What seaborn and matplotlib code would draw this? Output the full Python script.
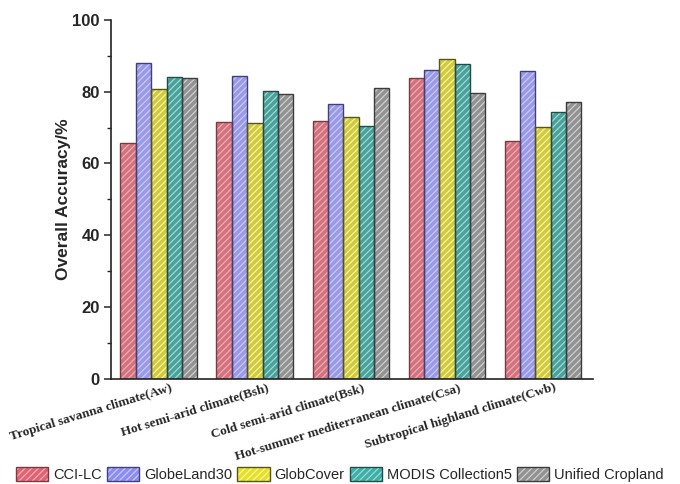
import matplotlib
matplotlib.use("Agg")
import matplotlib.pyplot as plt
import matplotlib.transforms as mtransforms
from matplotlib.patches import Patch
import seaborn as sns
import pandas as pd

# Climate zones (x categories)
climates = [
    "Tropical savanna climate(Aw)",
    "Hot semi-arid climate(Bsh)",
    "Cold semi-arid climate(Bsk)",
    "Hot-summer mediterranean climate(Csa)",
    "Subtropical highland climate(Cwb)",
]

# Overall accuracy (%) of each cropland product per climate zone
products = ["CCI-LC", "GlobeLand30", "GlobCover", "MODIS Collection5", "Unified Cropland"]
cci_lc = [65.6, 71.5, 71.9, 83.9, 66.4]
globeland30 = [88.1, 84.4, 76.7, 86.1, 85.8]
globcover = [80.7, 71.4, 72.9, 89.0, 70.3]
modis_c5 = [84.2, 80.2, 70.4, 87.8, 74.4]
unified = [83.7, 79.4, 81.0, 79.6, 77.1]

fill_colors = ["#de6474", "#8c8cf2", "#e6e02a", "#3eaea6", "#929292"]
hatch_colors = ["#f3a9b2", "#c8c8ff", "#fbf59a", "#9adcd6", "#cfcfcf"]
edge_colors = ["#7a3a40", "#40407a", "#55551a", "#1f4e4a", "#3c3c3c"]

records = []
for prod, vals in zip(products, [cci_lc, globeland30, globcover, modis_c5, unified]):
    for clim, v in zip(climates, vals):
        records.append({"climate": clim, "product": prod, "accuracy": v})
df = pd.DataFrame(records)

sns.set_style("ticks")
plt.rcParams["font.family"] = ["Liberation Sans", "DejaVu Sans"]
plt.rcParams["hatch.linewidth"] = 0.9

fig = plt.figure(figsize=(6.8, 4.84), dpi=100)
ax = fig.add_axes([0.163, 0.217, 0.709, 0.742])

# Filled, hatched bars
sns.barplot(data=df, x="climate", y="accuracy", hue="product",
            order=climates, hue_order=products, palette=fill_colors,
            width=0.8, legend=False, ax=ax, errorbar=None)
for i, cont in enumerate(ax.containers):
    for p in cont:
        p.set_hatch("/////")
        p.set_edgecolor(hatch_colors[i])
        p.set_linewidth(0)

# Dark outlines drawn on top
n_before = len(ax.containers)
sns.barplot(data=df, x="climate", y="accuracy", hue="product",
            order=climates, hue_order=products, palette=fill_colors,
            width=0.8, legend=False, ax=ax, errorbar=None, fill=False)
for i, cont in enumerate(ax.containers[n_before:]):
    for p in cont:
        p.set_edgecolor(edge_colors[i])
        p.set_linewidth(1.0)
        p.set_facecolor("none")

ax.set_ylim(0, 100)
ax.set_xlim(-0.5, 4.52)
ax.set_yticks([0, 20, 40, 60, 80, 100])
ax.set_yticks(range(10, 100, 20), minor=True)
ax.tick_params(axis="y", which="major", length=5, width=1.1, labelsize=12,
               direction="out", pad=3)
ax.tick_params(axis="y", which="minor", length=3, width=1.0, direction="out")
ax.tick_params(axis="x", length=0, pad=2)
for lab in ax.get_yticklabels():
    lab.set_fontweight("bold")

ax.set_xlabel("")
ax.set_ylabel("Overall Accuracy/%", fontsize=12.5, fontweight="bold", labelpad=1)

offset = mtransforms.ScaledTranslation(15 / 100, 0, fig.dpi_scale_trans)
for lab in ax.get_xticklabels():
    lab.set_rotation(17)
    lab.set_ha("right")
    lab.set_family(["Liberation Serif", "DejaVu Serif"])
    lab.set_fontweight("bold")
    lab.set_fontsize(9.5)
    lab.set_transform(lab.get_transform() + offset)

sns.despine(ax=ax)
for s in ("left", "bottom"):
    ax.spines[s].set_linewidth(1.2)
    ax.spines[s].set_color("#222222")

handles = []
for fc, hc, ec in zip(fill_colors, hatch_colors, edge_colors):
    h1 = Patch(facecolor=fc, edgecolor=hc, hatch="/////", linewidth=0)
    h2 = Patch(facecolor="none", edgecolor=ec, linewidth=1.0)
    handles.append((h1, h2))
fig.legend(handles, products, loc="center", bbox_to_anchor=(0.5, 0.02), ncol=5,
           frameon=False, fontsize=10.5, handlelength=2.2, handleheight=1.15,
           handletextpad=0.35, columnspacing=0.35, borderaxespad=0)

fig.savefig("out.png", dpi=100)
